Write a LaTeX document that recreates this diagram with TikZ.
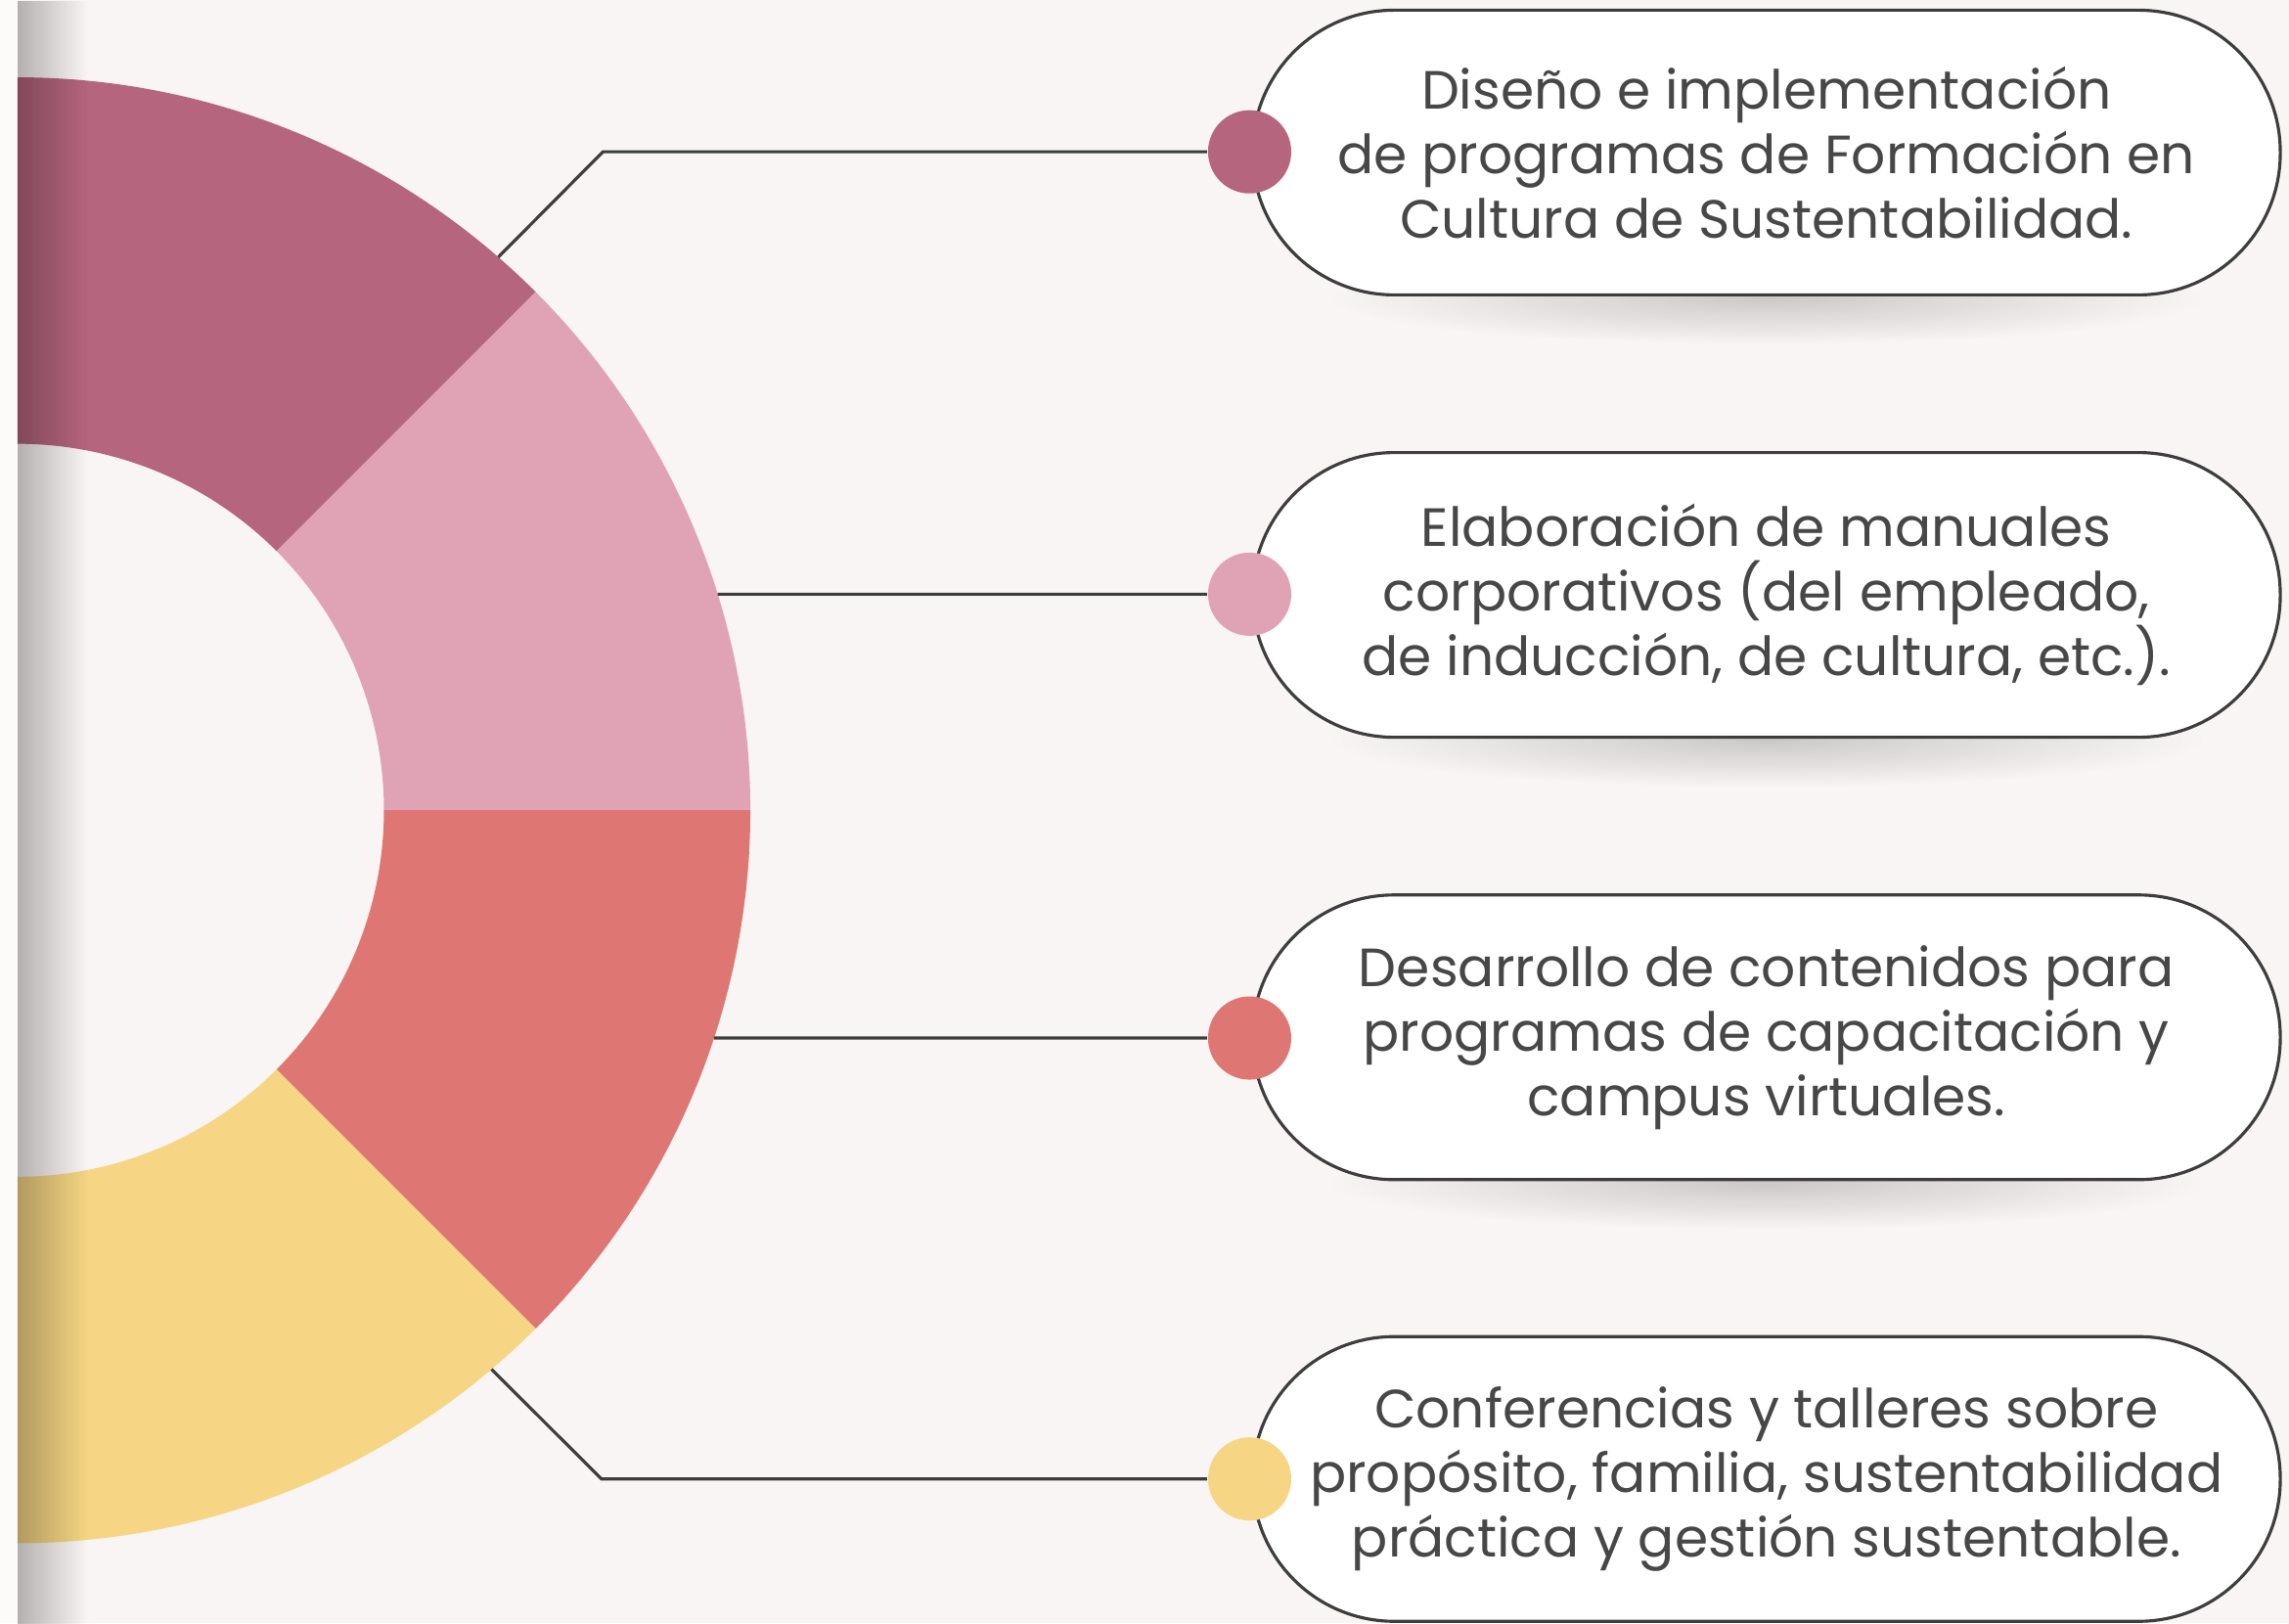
\documentclass[tikz,border=0pt]{standalone}
\usepackage{fontspec}
\setmainfont{Poppins}
\definecolor{bgcream}{RGB}{249,245,244}
\definecolor{leftstrip}{RGB}{253,251,250}
\definecolor{mauve}{RGB}{181,101,125}
\definecolor{rosepink}{RGB}{224,163,181}
\definecolor{coral}{RGB}{222,119,115}
\definecolor{sand}{RGB}{246,214,132}
\definecolor{inkgray}{RGB}{61,61,61}
\usetikzlibrary{calc, fadings}
\tikzfading[name=softshade, inner color=transparent!0, outer color=transparent!100]

\begin{document}
\begin{tikzpicture}[
  item/.style={draw=inkgray, line width=0.6pt, fill=white, rounded corners=0.97cm, minimum width=7.04cm, minimum height=1.95cm, inner sep=0pt, align=center, text=inkgray!95, font=\fontsize{10.5}{12.6}\selectfont},
  dot/.style={circle, inner sep=0pt, minimum size=0.57cm},
  link/.style={draw=inkgray, line width=0.6pt}
]
  \useasboundingbox (0,0) rectangle (15.68,11.12);
  \fill[leftstrip] (0,0) rectangle (0.12,11.12);
  \fill[bgcream] (0.12,0) rectangle (15.68,11.12);

  % Half ring, four quarters of 45 degrees
  \coordinate (O) at (0.12,5.57);
  \fill[mauve] ($(O)+(90:5.02)$) arc[start angle=90, end angle=45, radius=5.02] -- ($(O)+(45:2.51)$) arc[start angle=45, end angle=90, radius=2.51] -- cycle;
  \fill[rosepink] ($(O)+(45:5.02)$) arc[start angle=45, end angle=0, radius=5.02] -- ($(O)+(0:2.51)$) arc[start angle=0, end angle=45, radius=2.51] -- cycle;
  \fill[coral] ($(O)+(0:5.02)$) arc[start angle=0, end angle=-45, radius=5.02] -- ($(O)+(-45:2.51)$) arc[start angle=-45, end angle=0, radius=2.51] -- cycle;
  \fill[sand] ($(O)+(-45:5.02)$) arc[start angle=-45, end angle=-90, radius=5.02] -- ($(O)+(-90:2.51)$) arc[start angle=-90, end angle=-45, radius=2.51] -- cycle;

  % Shade along the left edge
  \fill[black, opacity=0.28, path fading=east] (0.12,0) rectangle (0.6,11.12);

  % Shadows under the boxes
  \fill[black, opacity=0.18, path fading=softshade] (12.1,9.08) ellipse (3 and 0.32);
  \fill[black, opacity=0.18, path fading=softshade] (12.1,6.05) ellipse (3 and 0.32);
  \fill[black, opacity=0.18, path fading=softshade] (12.1,3.02) ellipse (3 and 0.32);

  % Boxes
  \node[item] (box1) at (12.1,10.075) {Diseño e implementación\\de programas de Formación en\\Cultura de Sustentabilidad.};
  \node[item] (box2) at (12.1,7.045) {Elaboración de manuales\\corporativos (del empleado,\\de inducción, de cultura, etc.).};
  \node[item] (box3) at (12.1,4.015) {Desarrollo de contenidos para\\programas de capacitación y\\campus virtuales.};
  \node[item] (box4) at (12.1,0.99) {Conferencias y talleres sobre\\propósito, familia, sustentabilidad\\práctica y gestión sustentable.};

  % Dots
  \node[dot, fill=mauve] (d1) at (8.56,10.08) {};
  \node[dot, fill=rosepink] (d2) at (8.56,7.05) {};
  \node[dot, fill=coral] (d3) at (8.56,4.01) {};
  \node[dot, fill=sand] (d4) at (8.56,0.99) {};

  % Connectors
  \path (O) ++(49:5.02) coordinate (s1);
  \path (O) ++(17.15:5.02) coordinate (s2);
  \path (O) ++(-18.1:5.02) coordinate (s3);
  \path (O) ++(-49.7:5.02) coordinate (s4);
  \coordinate (b1) at (4.13,10.08);
  \coordinate (b4) at (4.12,0.99);
  \draw[link] (s1) -- (b1) -- (d1);
  \draw[link] (s2) -- (d2);
  \draw[link] (s3) -- (d3);
  \draw[link] (s4) -- (b4) -- (d4);
\end{tikzpicture}
\end{document}
